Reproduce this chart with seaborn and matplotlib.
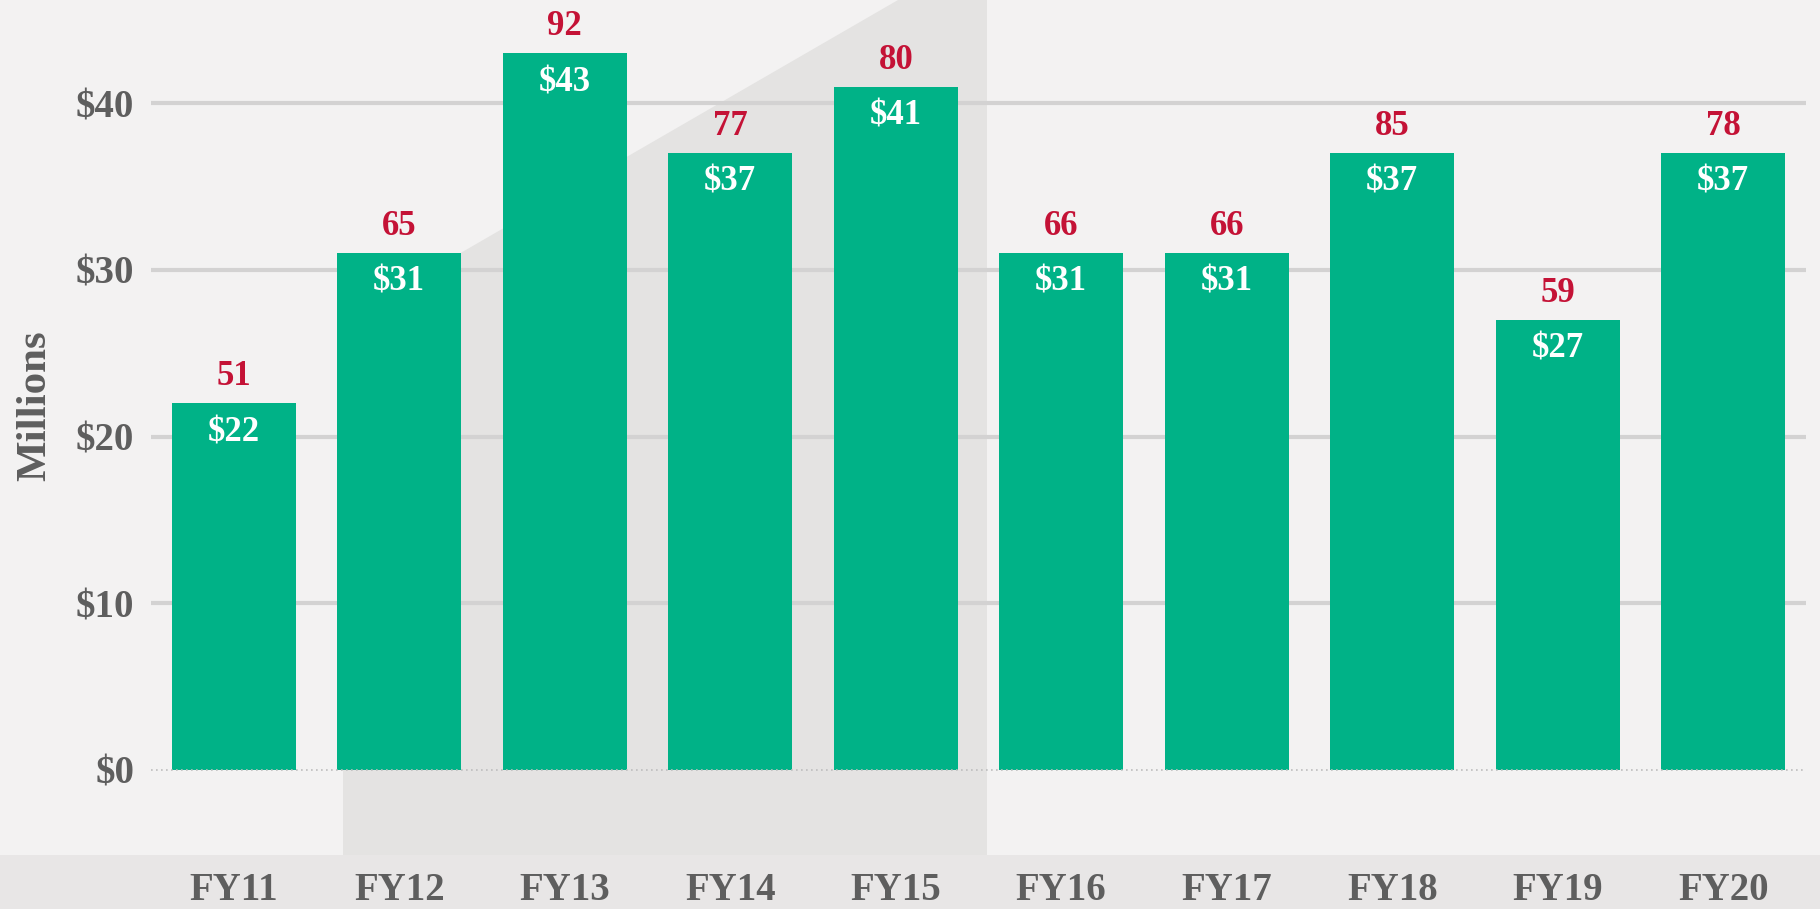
import matplotlib
matplotlib.use("Agg")
import matplotlib.pyplot as plt
from matplotlib.patches import Polygon, Rectangle
import numpy as np
import pandas as pd
import seaborn as sns

# data
years = ["FY11", "FY12", "FY13", "FY14", "FY15", "FY16", "FY17", "FY18", "FY19", "FY20"]
amounts = [22, 31, 43, 37, 41, 31, 31, 37, 27, 37]      # $ millions (inside bars)
counts = [51, 65, 92, 77, 80, 66, 66, 85, 59, 78]       # red numbers above bars
y_ticks = [0, 10, 20, 30, 40]
y_tick_labels = ["\\$0", "\\$10", "\\$20", "\\$30", "\\$40"]

BG = "#F3F2F2"
SHADE = "#E4E3E2"
BAND = "#E8E6E6"
GREEN = "#00B287"
RED = "#C41236"
GRID = "#D3D2D2"
TEXT = "#5E5E5E"

sns.set_style("white")
plt.rcParams["font.family"] = ["Liberation Serif", "DejaVu Serif"]

W, H = 1820, 909
fig = plt.figure(figsize=(W / 100, H / 100), dpi=100, facecolor=BG)


def fx(px):
    return px / W


def fy(py):
    return 1 - py / H


# background decoration: bottom band and the grey slanted panel
fig.add_artist(Rectangle((0, 0), 1, fy(855), transform=fig.transFigure,
                         color=BAND, lw=0, zorder=-2))
panel = [(343, 855), (343, 321), (898, 0), (987, 0), (987, 855)]
fig.add_artist(Polygon([(fx(x), fy(y)) for x, y in panel], closed=True,
                       transform=fig.transFigure, color=SHADE, lw=0, zorder=-1))

ax = fig.add_axes([fx(151), fy(855), fx(1806) - fx(151), fy(0) - fy(855)])
ax.set_facecolor("none")

df = pd.DataFrame({"year": years, "amount": amounts})
sns.barplot(data=df, x="year", y="amount", color=GREEN, saturation=1,
            width=0.75, errorbar=None, linewidth=0, ax=ax, zorder=3)

ax.set_xlim(-0.5, len(years) - 0.5)
ax.set_ylim(-5.1, 46.2)

# gridlines
for v in y_ticks[1:]:
    ax.axhline(v, color=GRID, lw=3, zorder=1)
ax.axhline(0, color="#BDBDBD", lw=1.2, ls=(0, (1, 2)), zorder=4)

# value labels
for i, (a, c) in enumerate(zip(amounts, counts)):
    ax.annotate(str(c), (i, a), xytext=(0, 19), textcoords="offset points",
                ha="center", va="center", color=RED, fontsize=25, fontweight="bold")
    ax.annotate(f"\\${a}", (i, a), xytext=(0, -21), textcoords="offset points",
                ha="center", va="center", color="white", fontsize=25,
                fontweight="bold", zorder=5)

ax.set_yticks(y_ticks)
ax.set_yticklabels(y_tick_labels)
ax.set_xticks(range(len(years)))
ax.set_xticklabels(years)
ax.set_xticks(np.arange(-0.5, len(years), 1), minor=True)

ax.tick_params(axis="y", length=0, pad=12, labelsize=28, labelcolor=TEXT)
ax.tick_params(axis="x", which="major", length=0, pad=12, labelsize=28, labelcolor=TEXT)
ax.tick_params(axis="x", which="minor", length=10, width=1.5, color="white",
               direction="out")
for lab in ax.get_xticklabels() + ax.get_yticklabels():
    lab.set_fontweight("bold")

ax.set_xlabel("")
ax.set_ylabel("")
for s in ax.spines.values():
    s.set_visible(False)

fig.text(fx(35), fy(406), "Millions", rotation=90, ha="center", va="center",
         fontsize=31, fontweight="bold", color=TEXT)

fig.savefig("out.png", dpi=100, facecolor=BG)
